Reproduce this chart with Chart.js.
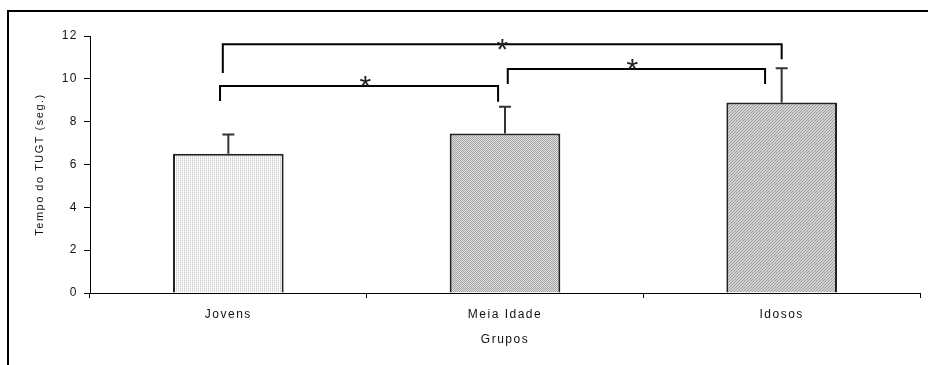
<!DOCTYPE html>
<html>
<head>
<meta charset="utf-8">
<script src="https://cdn.jsdelivr.net/npm/chart.js@4/dist/chart.umd.min.js"></script>
<style>
  body { margin: 0; background: #fff; }
  #wrap { width: 928px; height: 365px; position: relative; }
</style>
</head>
<body>
<div id="wrap"><canvas id="tugtChart" width="928" height="365"></canvas></div>
<script>
// data
var groups = ['Jovens', 'Meia Idade', 'Idosos'];
var means = [6.5, 7.45, 8.9];
var sds = [0.9, 1.25, 1.6];
var yTicks = [0, 2, 4, 6, 8, 10, 12];

// significance brackets: from/to category index, level, leg ends (y values)
var brackets = [
    { from: -0.02, to: 2.0, level: 11.62, leftEnd: 10.27, rightEnd: 10.92 },
    { from: -0.03, to: 0.975, level: 9.66, leftEnd: 8.96, rightEnd: 8.93 },
    { from: 1.01, to: 1.94, level: 10.46, leftEnd: 9.76, rightEnd: 9.76 }
];
var stars = [
    { x: 0.99, y: 11.65 },
    { x: 0.495, y: 9.93 },
    { x: 1.46, y: 10.7 }
];

var FONT = '"Liberation Sans", Arial, sans-serif';

function makePattern(w, h, paint) {
    var tile = document.createElement('canvas');
    tile.width = w;
    tile.height = h;
    var t = tile.getContext('2d');
    paint(t);
    return document.createElement('canvas').getContext('2d').createPattern(tile, 'repeat');
}

// light vertical dots
var patJovens = makePattern(2, 2, function(t) {
    t.fillStyle = '#ffffff'; t.fillRect(0, 0, 2, 2);
    t.fillStyle = '#cccccc'; t.fillRect(0, 0, 1, 1);
    t.fillStyle = '#e2e2e2'; t.fillRect(0, 1, 1, 1);
});
// checkerboard
var patMeia = makePattern(2, 2, function(t) {
    t.fillStyle = '#e0e0e0'; t.fillRect(0, 0, 2, 2);
    t.fillStyle = '#a2a2a2'; t.fillRect(0, 0, 1, 1); t.fillRect(1, 1, 1, 1);
});
// diagonal hatch
var patIdosos = makePattern(3, 3, function(t) {
    t.fillStyle = '#d2d2d2'; t.fillRect(0, 0, 3, 3);
    t.fillStyle = '#9c9c9c';
    t.fillRect(2, 0, 1, 1); t.fillRect(1, 1, 1, 1); t.fillRect(0, 2, 1, 1);
});

var framePlugin = {
    id: 'frame',
    beforeDraw: function(chart) {
        chart.ctx.letterSpacing = '1.5px';
    },
    afterDraw: function(chart) {
        var c = chart.ctx;
        c.save();
        c.strokeStyle = '#000';
        c.lineWidth = 2;
        c.beginPath();
        c.moveTo(8, 365);
        c.lineTo(8, 11);
        c.lineTo(928, 11);
        c.stroke();
        c.restore();
    }
};

var errorBarPlugin = {
    id: 'errorBars',
    afterDatasetsDraw: function(chart) {
        var c = chart.ctx;
        var y = chart.scales.y;
        var meta = chart.getDatasetMeta(0);
        c.save();
        c.strokeStyle = '#333';
        c.lineWidth = 2;
        meta.data.forEach(function(bar, i) {
            var top = y.getPixelForValue(means[i] + sds[i]);
            c.beginPath();
            c.moveTo(bar.x, bar.y);
            c.lineTo(bar.x, top);
            c.moveTo(bar.x - 6, top);
            c.lineTo(bar.x + 6, top);
            c.stroke();
        });
        c.restore();
    }
};

var bracketPlugin = {
    id: 'brackets',
    afterDatasetsDraw: function(chart) {
        var c = chart.ctx;
        var x = chart.scales.x;
        var y = chart.scales.y;
        c.save();
        c.strokeStyle = '#000';
        c.lineWidth = 2;
        brackets.forEach(function(b) {
            var x1 = x.getPixelForValue(b.from);
            var x2 = x.getPixelForValue(b.to);
            c.beginPath();
            c.moveTo(x1, y.getPixelForValue(b.leftEnd));
            c.lineTo(x1, y.getPixelForValue(b.level));
            c.lineTo(x2, y.getPixelForValue(b.level));
            c.lineTo(x2, y.getPixelForValue(b.rightEnd));
            c.stroke();
        });
        c.fillStyle = '#222';
        c.letterSpacing = '0px';
        c.font = '30px ' + FONT;
        c.textAlign = 'center';
        c.textBaseline = 'middle';
        stars.forEach(function(s) {
            c.fillText('*', x.getPixelForValue(s.x), y.getPixelForValue(s.y) + 7);
        });
        c.restore();
    }
};

var ctx = document.getElementById('tugtChart');
var myChart = new Chart(ctx, {
    type: 'bar',
    data: {
        labels: groups,
        datasets: [
            {
                data: means,
                backgroundColor: [patJovens, patMeia, patIdosos],
                borderColor: '#222',
                borderWidth: 2,
                borderSkipped: 'bottom',
                barPercentage: 0.4,
                categoryPercentage: 1.0
            }
        ]
    },
    options: {
        responsive: false,
        animation: false,
        layout: {
            padding: { top: 36, right: 8, bottom: 0, left: 0 }
        },
        plugins: {
            legend: { display: false },
            tooltip: { enabled: false }
        },
        scales: {
            x: {
                offset: true,
                grid: {
                    offset: true,
                    drawOnChartArea: false,
                    drawTicks: true,
                    tickLength: 5,
                    color: '#000'
                },
                border: { display: true, color: '#000', width: 1 },
                ticks: {
                    color: '#111',
                    padding: 9,
                    maxRotation: 0,
                    font: { family: FONT, size: 12 }
                },
                title: {
                    display: true,
                    text: 'Grupos',
                    color: '#111',
                    padding: { top: 0, bottom: 18 },
                    font: { family: FONT, size: 12 }
                },
                afterFit: function(scale) { scale.height = 72; }
            },
            y: {
                min: 0,
                max: 12,
                afterBuildTicks: function(scale) {
                    scale.ticks = yTicks.map(function(v) { return { value: v }; });
                },
                grid: {
                    drawOnChartArea: false,
                    drawTicks: true,
                    tickLength: 6,
                    color: '#000'
                },
                border: { display: true, color: '#000', width: 1 },
                ticks: {
                    color: '#111',
                    padding: 6,
                    font: { family: FONT, size: 12 }
                },
                title: {
                    display: true,
                    text: 'Tempo do TUGT (seg.)',
                    color: '#111',
                    padding: { top: 33, bottom: 0 },
                    font: { family: FONT, size: 11 }
                },
                afterFit: function(scale) { scale.width = 90; }
            }
        }
    },
    plugins: [framePlugin, errorBarPlugin, bracketPlugin]
});
</script>
</body>
</html>
